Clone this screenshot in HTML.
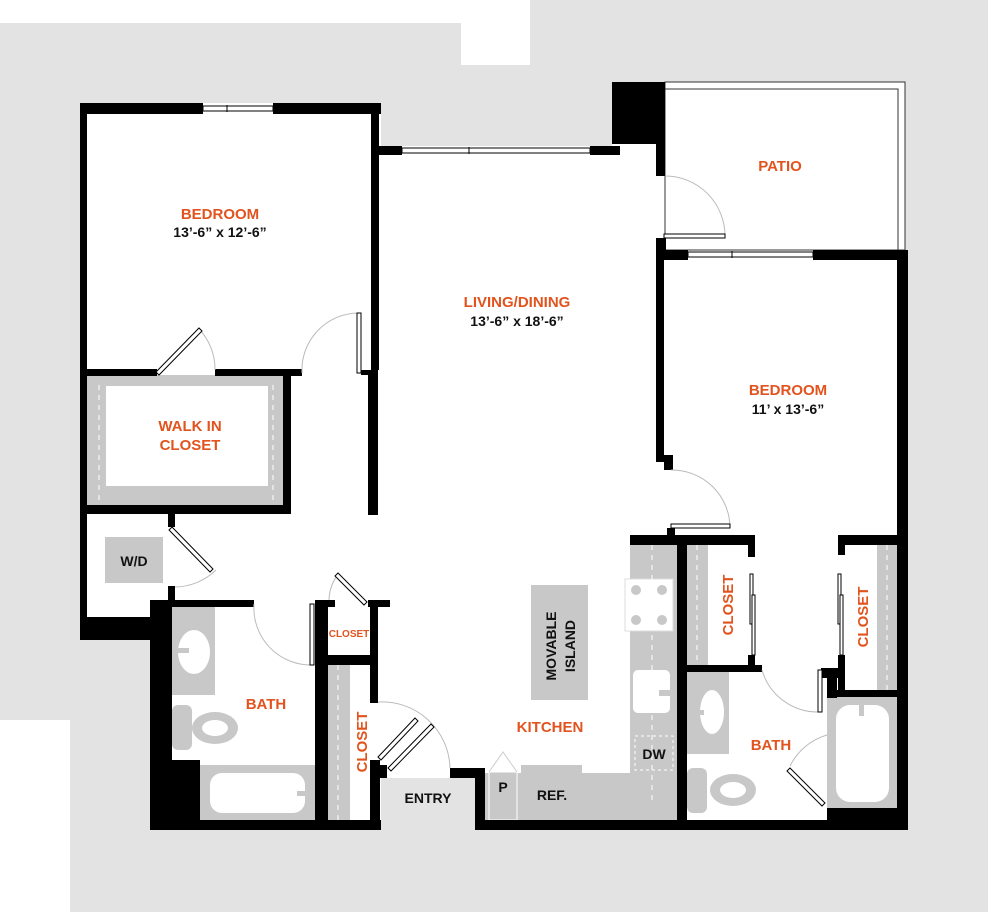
<!DOCTYPE html>
<html><head><meta charset="utf-8"><style>
html,body{margin:0;padding:0;background:#fff}
svg{display:block}
text{font-family:"Liberation Sans",sans-serif;font-weight:bold}
.o{fill:#e2531e;font-size:15px}
.k{fill:#111;font-size:14px}
</style></head><body>
<svg width="988" height="912" viewBox="0 0 988 912" xmlns="http://www.w3.org/2000/svg">
<rect width="988" height="912" fill="#e3e3e3"/>
<rect x="0" y="0" width="530" height="23" fill="#fff"/>
<rect x="461" y="0" width="69" height="65" fill="#fff"/>
<rect x="0" y="720" width="70" height="192" fill="#fff"/>
<path d="M80 103 H381 V146 H612 V82 H905 V250 H908 V830 H475 V828 H381 V830 H150 V640 H80 Z" fill="#fff"/>
<rect x="665" y="82" width="240" height="168" fill="#fff" stroke="#333" stroke-width="1"/>
<rect x="665" y="89" width="233" height="161" fill="none" stroke="#333" stroke-width="1"/>
<g fill="#c8c8c8">
<rect x="87" y="375" width="196" height="130"/>
<rect x="105" y="537" width="58" height="46"/>
<rect x="172" y="607" width="43" height="88"/>
<rect x="172" y="705" width="20" height="45" rx="6"/>
<rect x="200" y="765" width="118" height="55"/>
<rect x="328" y="655" width="42" height="10"/>
<rect x="328" y="665" width="22" height="155"/>
<rect x="531" y="585" width="57" height="115"/>
<rect x="630" y="545" width="47" height="275"/>
<rect x="485" y="773" width="195" height="47"/>
<rect x="521" y="765" width="61" height="55"/>
<rect x="687" y="545" width="21" height="120"/>
<rect x="687" y="672" width="42" height="82"/>
<rect x="687" y="768" width="20" height="45" rx="6"/>
<rect x="877" y="545" width="20" height="145"/>
<rect x="827" y="697" width="70" height="113"/>
</g>
<rect x="381" y="778" width="94" height="50" fill="#e3e3e3"/>
<rect x="106" y="386" width="162" height="100" fill="#fff"/>
<ellipse cx="194" cy="652" rx="16" ry="22" fill="#fff"/>
<rect x="177" y="648" width="12" height="5" fill="#c8c8c8"/>
<ellipse cx="215" cy="728" rx="23" ry="16" fill="#c8c8c8"/><ellipse cx="215" cy="728" rx="13" ry="8" fill="#fff"/>
<rect x="210" y="773" width="95" height="40" rx="12" fill="#fff"/>
<rect x="297" y="791" width="10" height="5" fill="#c8c8c8"/>
<rect x="625" y="579" width="48" height="52" fill="#fff" stroke="#ddd"/>
<g fill="#c8c8c8"><circle cx="636" cy="590" r="5"/><circle cx="662" cy="590" r="5"/><circle cx="636" cy="620" r="5"/><circle cx="662" cy="620" r="5"/></g>
<rect x="633" y="670" width="37" height="43" rx="5" fill="#fff"/>
<rect x="659" y="690" width="15" height="6" fill="#c8c8c8"/>
<rect x="635" y="736" width="38" height="34" fill="none" stroke="#fff" stroke-dasharray="3 3"/>
<line x1="652" y1="545" x2="652" y2="800" stroke="#fff" stroke-dasharray="5 5"/>
<line x1="697" y1="545" x2="697" y2="665" stroke="#fff" stroke-dasharray="5 5"/>
<line x1="887" y1="545" x2="887" y2="690" stroke="#fff" stroke-dasharray="5 5"/>
<line x1="338" y1="665" x2="338" y2="820" stroke="#fff" stroke-dasharray="5 5"/>
<line x1="99" y1="385" x2="99" y2="500" stroke="#fff" stroke-dasharray="5 5"/>
<line x1="273" y1="385" x2="273" y2="500" stroke="#fff" stroke-dasharray="5 5"/>
<rect x="489" y="772" width="28" height="48" fill="#c8c8c8" stroke="#fff"/>
<path d="M489 772 L503 752 L517 772" fill="none" stroke="#ccc"/>
<ellipse cx="712" cy="712" rx="12" ry="22" fill="#fff"/>
<rect x="692" y="710" width="12" height="5" fill="#c8c8c8"/>
<ellipse cx="733" cy="790" rx="23" ry="16" fill="#c8c8c8"/><ellipse cx="733" cy="790" rx="13" ry="8" fill="#fff"/>
<rect x="836" y="705" width="53" height="97" rx="14" fill="#fff"/>
<rect x="859" y="704" width="5" height="12" fill="#c8c8c8"/>
<g fill="#000">
<rect x="80" y="103" width="7" height="537"/>
<rect x="80" y="103" width="123" height="11"/>
<rect x="273" y="103" width="108" height="11"/>
<rect x="371" y="103" width="8" height="267"/>
<rect x="361" y="370" width="17" height="5"/>
<rect x="368" y="373" width="10" height="142"/>
<rect x="378" y="146" width="24" height="9"/>
<rect x="590" y="146" width="30" height="9"/>
<rect x="612" y="82" width="53" height="62"/>
<rect x="656" y="82" width="9" height="94"/>
<rect x="656" y="238" width="10" height="22"/>
<rect x="656" y="250" width="32" height="10"/>
<rect x="813" y="250" width="95" height="10"/>
<rect x="897" y="250" width="11" height="580"/>
<rect x="656" y="260" width="8" height="202"/>
<rect x="664" y="455" width="9" height="15"/>
<rect x="667" y="528" width="8" height="12"/>
<rect x="630" y="535" width="125" height="10"/>
<rect x="748" y="535" width="7" height="22"/>
<rect x="838" y="535" width="70" height="10"/>
<rect x="838" y="535" width="7" height="20"/>
<rect x="677" y="540" width="10" height="290"/>
<rect x="687" y="665" width="75" height="7"/>
<rect x="748" y="655" width="7" height="15"/>
<rect x="821" y="668" width="24" height="10"/>
<rect x="838" y="655" width="7" height="40"/>
<rect x="827" y="668" width="10" height="30"/>
<rect x="827" y="690" width="81" height="7"/>
<rect x="827" y="808" width="81" height="22"/>
<rect x="475" y="820" width="433" height="10"/>
<rect x="450" y="768" width="35" height="10"/>
<rect x="475" y="768" width="10" height="62"/>
<rect x="87" y="369" width="70" height="7"/>
<rect x="215" y="369" width="87" height="7"/>
<rect x="283" y="369" width="8" height="145"/>
<rect x="80" y="505" width="211" height="9"/>
<rect x="168" y="514" width="7" height="13"/>
<rect x="168" y="586" width="7" height="17"/>
<rect x="80" y="617" width="90" height="23"/>
<rect x="150" y="600" width="22" height="230"/>
<rect x="163" y="600" width="91" height="7"/>
<rect x="315" y="600" width="13" height="220"/>
<rect x="315" y="600" width="20" height="7"/>
<rect x="368" y="600" width="22" height="7"/>
<rect x="370" y="603" width="8" height="100"/>
<rect x="328" y="655" width="50" height="10"/>
<rect x="370" y="760" width="10" height="70"/>
<rect x="370" y="765" width="17" height="13"/>
<rect x="150" y="760" width="50" height="70"/>
<rect x="150" y="820" width="231" height="10"/>
<rect x="315" y="760" width="13" height="70"/>
</g>
<g fill="#fff" stroke="#000" stroke-width="1">
<rect x="203" y="106" width="70" height="5"/>
<rect x="402" y="148" width="188" height="5"/>
<rect x="688" y="252" width="125" height="5"/>
</g>
<g stroke="#000" stroke-width="1"><line x1="227" y1="105" x2="227" y2="112"/><line x1="469" y1="147" x2="469" y2="154"/><line x1="732" y1="251" x2="732" y2="258"/></g>
<g fill="none" stroke="#bbb" stroke-width="1">
<path d="M302 373 A57 57 0 0 1 359 313"/>
<path d="M215 370 A58 58 0 0 0 198 328"/>
<path d="M665 176 A60 60 0 0 1 725 236"/>
<path d="M671 470 A58 58 0 0 1 730 528"/>
<path d="M175 587 A60 60 0 0 0 216 570"/>
<path d="M254 604 A57 57 0 0 0 312 665"/>
<path d="M329 600 A45 45 0 0 1 339 573"/>
<path d="M378 702 A68 68 0 0 1 450 768"/>
<path d="M762 670 A58 58 0 0 0 819 712"/>
<path d="M790 766 A60 60 0 0 1 827 735"/>
</g>
<g fill="#fff" stroke="#000" stroke-width="1">
<rect x="357" y="313" width="4" height="60"/>
<rect x="664" y="234" width="61" height="4"/>
<rect x="671" y="524" width="59" height="4"/>
<rect x="310" y="604" width="4" height="61"/>
<rect x="750" y="574" width="3" height="50"/><rect x="752" y="595" width="3" height="60"/>
<rect x="838" y="574" width="3" height="50"/><rect x="840" y="595" width="3" height="60"/>
<rect x="818" y="670" width="4" height="42"/>
<path d="M156 372 L199 328 L202 331 L159 375 Z"/>
<path d="M172 527 L213 569 L210 572 L169 530 Z"/>
<path d="M338 573 L367 602 L364 605 L335 576 Z"/>
<path d="M378 757 L415 718 L418 721 L381 760 Z"/>
<path d="M388 768 L431 724 L434 727 L391 771 Z"/>
<path d="M790 768 L825 803 L822 806 L787 771 Z"/>
</g>
<text class="o" x="220" y="219" text-anchor="middle">BEDROOM</text>
<text class="k" x="220" y="237" text-anchor="middle">13’-6” x 12’-6”</text>
<text class="o" x="190" y="431" text-anchor="middle">WALK IN</text>
<text class="o" x="190" y="450" text-anchor="middle">CLOSET</text>
<text class="o" x="517" y="307" text-anchor="middle">LIVING/DINING</text>
<text class="k" x="517" y="326" text-anchor="middle">13’-6” x 18’-6”</text>
<text class="o" x="780" y="171" text-anchor="middle">PATIO</text>
<text class="o" x="788" y="395" text-anchor="middle">BEDROOM</text>
<text class="k" x="788" y="414" text-anchor="middle">11’ x 13’-6”</text>
<text class="k" x="134" y="566" text-anchor="middle">W/D</text>
<text class="o" x="266" y="709" text-anchor="middle">BATH</text>
<text class="o" x="349" y="637" text-anchor="middle" style="font-size:10px">CLOSET</text>
<text class="o" transform="translate(367 742) rotate(-90)" text-anchor="middle">CLOSET</text>
<text class="k" x="428" y="803" text-anchor="middle">ENTRY</text>
<text class="k" x="503" y="792" text-anchor="middle">P</text>
<text class="k" x="552" y="800" text-anchor="middle">REF.</text>
<text class="k" x="654" y="759" text-anchor="middle">DW</text>
<text class="o" x="550" y="732" text-anchor="middle">KITCHEN</text>
<text class="k" transform="translate(556 646) rotate(-90)" text-anchor="middle">MOVABLE</text>
<text class="k" transform="translate(575 646) rotate(-90)" text-anchor="middle">ISLAND</text>
<text class="o" transform="translate(733 605) rotate(-90)" text-anchor="middle">CLOSET</text>
<text class="o" transform="translate(868 617) rotate(-90)" text-anchor="middle">CLOSET</text>
<text class="o" x="771" y="750" text-anchor="middle">BATH</text>
</svg>
</body></html>
